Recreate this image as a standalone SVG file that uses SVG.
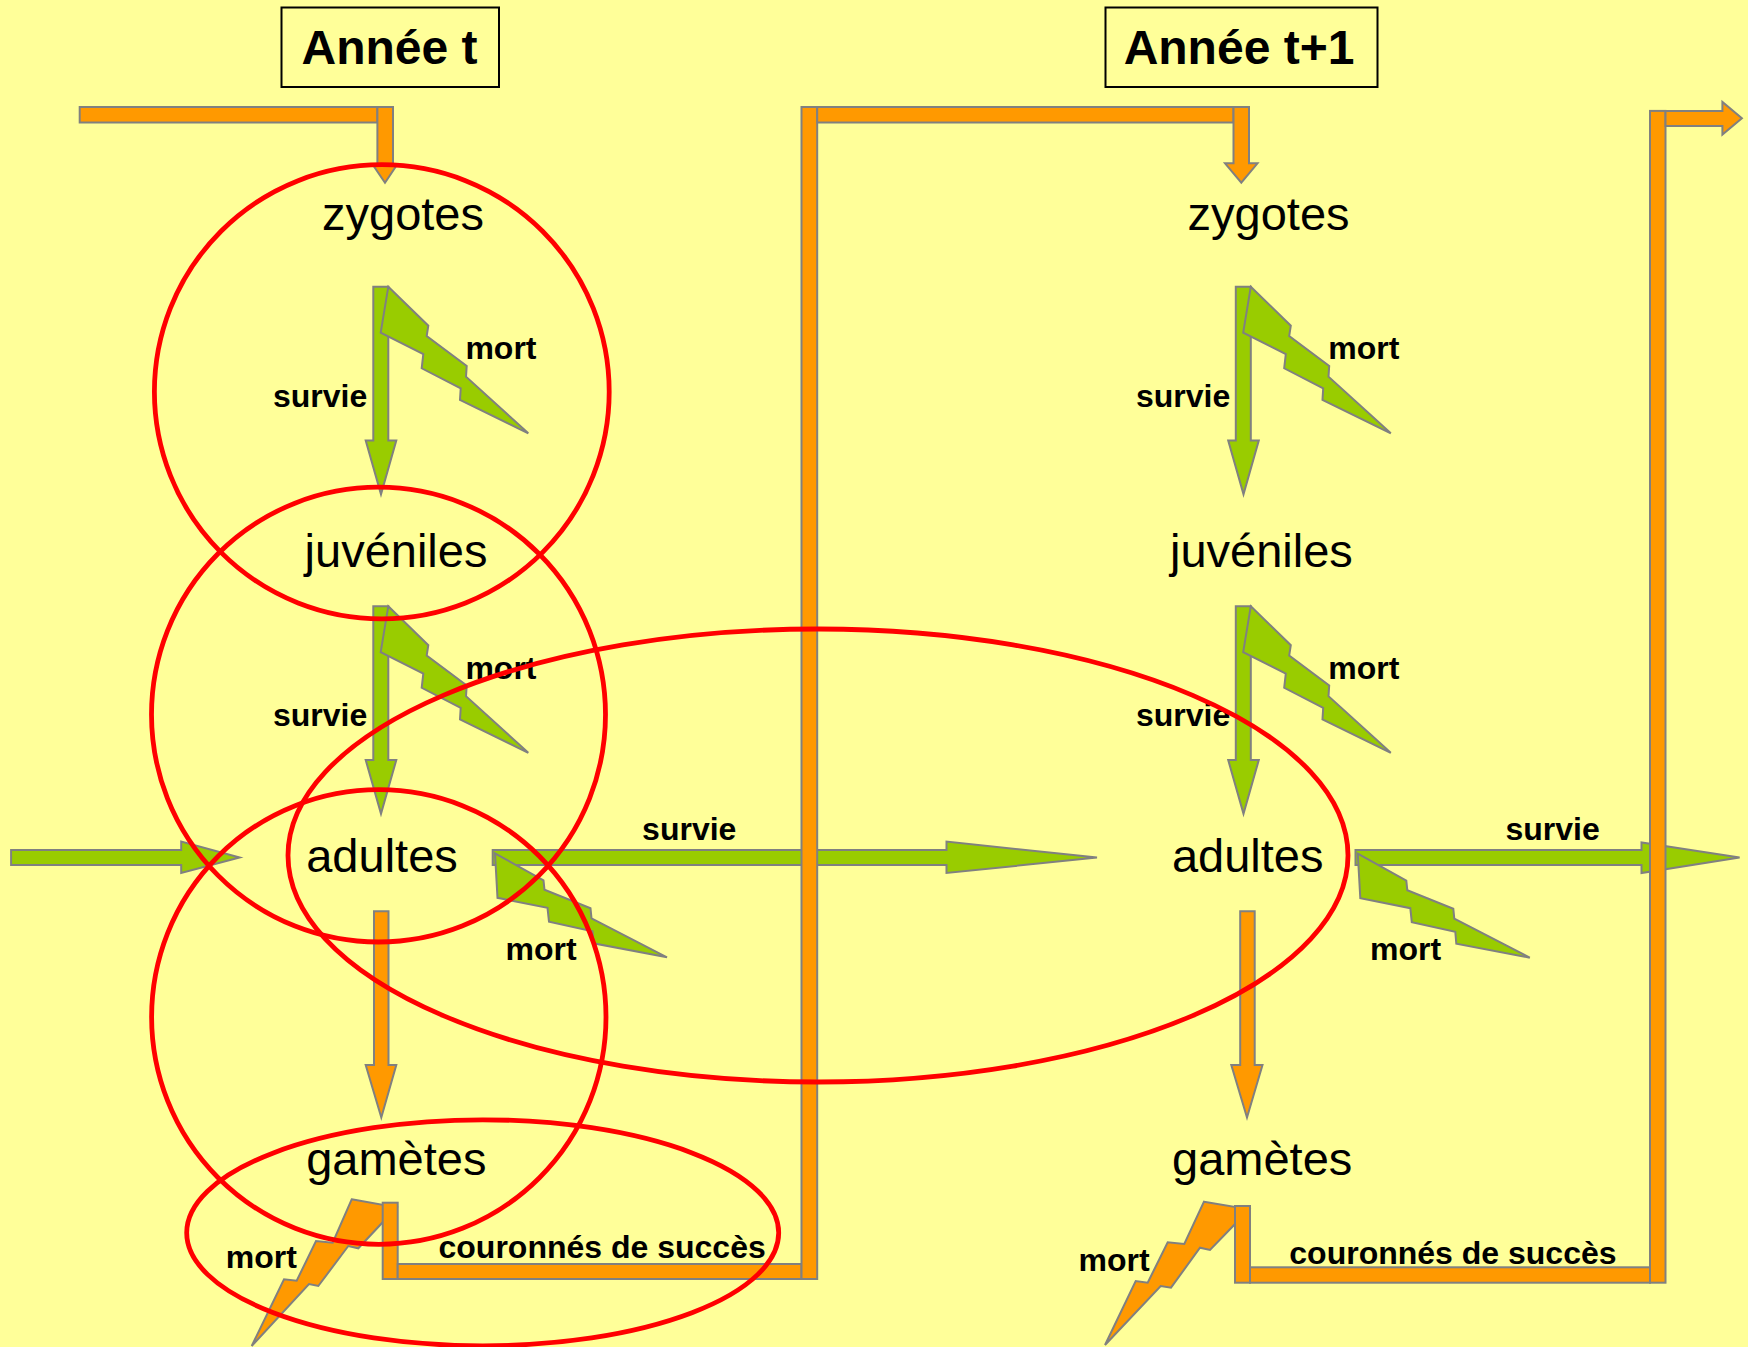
<svg xmlns="http://www.w3.org/2000/svg" xmlns:xlink="http://www.w3.org/1999/xlink" width="1748" height="1347" viewBox="0 0 1748 1347">
<style>
.g{fill:#99CC00;stroke:#808080;stroke-width:2;stroke-linejoin:miter}
.o{fill:#FF9900;stroke:#808080;stroke-width:2;stroke-linejoin:miter}
.node{font-family:"Liberation Sans",Arial,sans-serif;font-size:47px;fill:#000;text-anchor:middle}
.lbl{font-family:"Liberation Sans",Arial,sans-serif;font-size:32px;font-weight:bold;fill:#000}
.title{font-family:"Liberation Sans",Arial,sans-serif;font-size:48px;font-weight:bold;fill:#000;text-anchor:middle}
.box{fill:none;stroke:#000;stroke-width:2}
.ring{fill:none;stroke:#FF0000;stroke-width:4.8}
</style>
<defs>
<polygon id="arrowV" points="0,0 15,0 15,153.8 23,153.8 7.7,207.6 -7.6,153.8 0,153.8"/>
<polygon id="boltV" points="0,0 40,39 38.4,49.3 78.4,79.3 77.7,90 140,146.6 71.7,113.3 72.4,101.6 33.4,81.6 35,67.3 -7.6,46"/>
<polygon id="boltH" points="0,0 48.5,27 49.5,36.5 95.5,55 96.5,65 172,104 98.5,90 97.5,78 54,68.5 52.5,54.5 2.5,44.5"/>
</defs>
<rect x="0" y="0" width="1748" height="1347" fill="#FFFF99"/>

<g id="titles">
<g id="title-t">
<rect class="box" x="281.5" y="7.5" width="217.5" height="79.5"/>
<text class="title" x="389.5" y="63.5">Année t</text>
</g>
<g id="title-t1">
<rect class="box" x="1105.5" y="7.5" width="272" height="79.5"/>
<text class="title" x="1239" y="63.5">Année t+1</text>
</g>
</g>

<g id="connectors">
<!-- incoming orange to zygotes t -->
<rect class="o" x="79.7" y="107" width="297.7" height="15.5"/>
<polygon class="o" points="377.4,107 393,107 393,164 397.5,164 385,182.7 372.3,164 377.4,164"/>

<!-- green survival arrows, year t -->
<use xlink:href="#arrowV" class="g" x="373.3" y="286.7"/>
<use xlink:href="#boltV" class="g" x="388.3" y="286.7"/>
<use xlink:href="#arrowV" class="g" x="373.3" y="606.2"/>
<use xlink:href="#boltV" class="g" x="388.3" y="606.2"/>

<!-- green survival arrows, year t+1 -->
<use xlink:href="#arrowV" class="g" x="1235.8" y="286.7"/>
<use xlink:href="#boltV" class="g" x="1250.8" y="286.7"/>
<use xlink:href="#arrowV" class="g" x="1235.8" y="606.2"/>
<use xlink:href="#boltV" class="g" x="1250.8" y="606.2"/>

<!-- incoming adults arrow -->
<polygon class="g" points="11.1,850 181.2,850 181.2,841.6 239.7,857.5 181.2,873 181.2,865 11.1,865"/>
<!-- adults t survival to adults t+1 -->
<polygon class="g" points="492.7,850 946.5,850 946.5,841.6 1097,857.5 946.5,873 946.5,865 492.7,865"/>
<use xlink:href="#boltH" class="g" x="495" y="853.3"/>
<!-- adults t+1 survival -->
<polygon class="g" points="1355.5,850 1641.5,850 1641.5,842.5 1739.6,857.5 1641.5,873 1641.5,865 1355.5,865"/>
<use xlink:href="#boltH" class="g" x="1357.8" y="853.7"/>

<!-- adults to gametes -->
<polygon class="o" points="374,911.3 388.5,911.3 388.5,1065 396.3,1065 381.3,1117.5 365.7,1065 374,1065"/>
<polygon class="o" points="1240.2,911.3 1254.7,911.3 1254.7,1065 1262.5,1065 1247,1117.5 1231.3,1065 1240.2,1065"/>

<!-- gamete mortality bolts -->
<polygon class="o" points="351.7,1199.3 396.7,1207.3 358.3,1248.3 348.3,1246 318.3,1286 309,1284 251.7,1346 284,1279.3 296.7,1280.7 316,1241 332.7,1242.7"/>
<polygon class="o" points="1204,1201.7 1249.3,1209.3 1210,1250 1200,1247.7 1171,1287.7 1160.7,1286 1105,1345 1135.7,1281 1147.7,1282.7 1167.7,1242.3 1184.3,1244"/>

<!-- successful gametes t -> zygotes t+1 -->
<rect class="o" x="382.7" y="1202.7" width="15" height="76.3"/>
<rect class="o" x="397.7" y="1264" width="403.8" height="15"/>
<rect class="o" x="801.5" y="107" width="15.7" height="1172"/>
<rect class="o" x="817.2" y="107" width="416.3" height="15.5"/>
<polygon class="o" points="1233.5,107 1249,107 1249,163.3 1257.5,163.3 1241.3,182.7 1225,163.3 1233.5,163.3"/>

<!-- successful gametes t+1 -> next -->
<rect class="o" x="1235" y="1206" width="15" height="76.7"/>
<rect class="o" x="1250" y="1267.3" width="400" height="15.4"/>
<rect class="o" x="1650" y="110.9" width="15.5" height="1171.8"/>
<polygon class="o" points="1665.5,110.9 1722.4,110.9 1722.4,101.9 1741.9,118.2 1722.4,134.5 1722.4,125.9 1665.5,125.9"/>
</g>

<g id="labels">
<text class="lbl" x="273" y="406.5">survie</text>
<text class="lbl" x="465.4" y="359">mort</text>
<text class="lbl" x="273" y="726">survie</text>
<text class="lbl" x="465.4" y="678.5">mort</text>
<text class="lbl" x="1136" y="406.5">survie</text>
<text class="lbl" x="1328.3" y="359">mort</text>
<text class="lbl" x="1136" y="726">survie</text>
<text class="lbl" x="1328.3" y="678.5">mort</text>
<text class="lbl" x="642.1" y="839.5">survie</text>
<text class="lbl" x="505.6" y="959.8">mort</text>
<text class="lbl" x="1505.5" y="839.5">survie</text>
<text class="lbl" x="1370" y="959.8">mort</text>
<text class="lbl" x="225.7" y="1268">mort</text>
<text class="lbl" x="438.5" y="1258.3">couronnés de succès</text>
<text class="lbl" x="1078.6" y="1270.6">mort</text>
<text class="lbl" x="1289.3" y="1263.7">couronnés de succès</text>
</g>

<g id="zygotes-t"><text class="node" x="403" y="230">zygotes</text></g>
<g id="juveniles-t"><text class="node" x="396" y="566.5">juvéniles</text></g>
<g id="adultes-t"><text class="node" x="382" y="871.7">adultes</text></g>
<g id="gametes-t"><text class="node" x="396.3" y="1174.7">gamètes</text></g>
<g id="zygotes-t1"><text class="node" x="1268.6" y="230">zygotes</text></g>
<g id="juveniles-t1"><text class="node" x="1261.4" y="566.5">juvéniles</text></g>
<g id="adultes-t1"><text class="node" x="1247.7" y="871.7">adultes</text></g>
<g id="gametes-t1"><text class="node" x="1262.2" y="1174.7">gamètes</text></g>

<g id="rings">
<ellipse class="ring" cx="381.8" cy="391.8" rx="227.4" ry="227.1"/>
<ellipse class="ring" cx="378.5" cy="714.6" rx="227" ry="227.4"/>
<ellipse class="ring" cx="378.8" cy="1017" rx="227.2" ry="227.3"/>
<ellipse class="ring" cx="818" cy="855.5" rx="530" ry="226.5"/>
<ellipse class="ring" cx="482.7" cy="1232.8" rx="296" ry="113"/>
</g>
</svg>
